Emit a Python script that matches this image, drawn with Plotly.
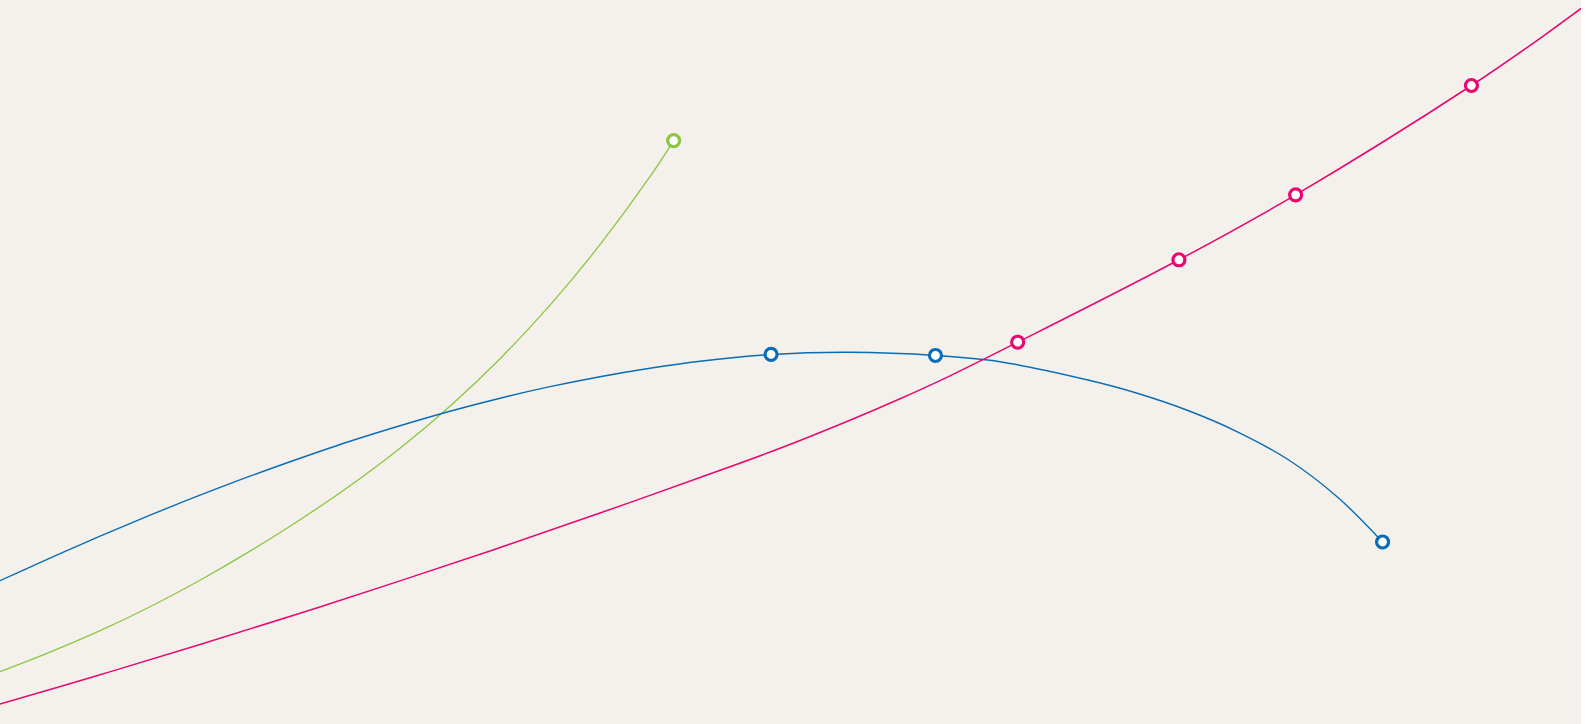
import plotly.graph_objects as go

# Trajectories on a 0-100 scale in both directions; points outside the
# visible window keep the curves running off the edges.
green_x = [-3.16, 0.00, 3.16, 6.33, 9.49, 12.65, 15.81, 18.98, 22.14, 25.30,
           28.46, 31.63, 34.79, 37.95, 41.11, 42.61]
green_y = [4.67, 7.22, 9.92, 12.89, 16.20, 19.86, 23.87, 28.22, 32.91, 38.09,
           43.90, 50.46, 57.85, 66.20, 75.59, 80.59]
green_marked = [15]

blue_x = [-3.16, 0.00, 3.16, 6.33, 9.49, 12.65, 15.81, 18.98, 22.14, 25.30,
          28.46, 31.63, 34.79, 37.95, 41.11, 44.28, 48.77, 53.76, 59.17, 63.25,
          68.82, 71.98, 75.14, 78.30, 81.47, 84.63, 87.45]
blue_y = [16.71, 19.79, 22.90, 25.94, 28.84, 31.60, 34.23, 36.71, 39.06, 41.20,
          43.20, 45.00, 46.59, 47.97, 49.14, 50.11, 51.04, 51.34, 50.90, 50.04,
          47.51, 45.65, 43.30, 40.33, 36.53, 31.28, 25.14]
blue_marked = [16, 18, 26]

pink_x = [-3.16, 0.00, 6.33, 12.65, 18.98, 25.30, 31.63, 37.95, 44.28, 49.34,
          53.76, 56.93, 60.09, 64.37, 74.57, 81.95, 93.07, 97.41, 103.10]
pink_y = [0.79, 2.76, 6.80, 10.98, 15.30, 19.77, 24.38, 29.14, 34.05, 38.08,
          41.95, 44.92, 48.09, 52.73, 64.12, 73.09, 88.19, 94.71, 103.87]
pink_marked = [13, 14, 15, 16]

series = [
    ("green", green_x, green_y, green_marked, "#8cc63f", 1.3),
    ("blue", blue_x, blue_y, blue_marked, "#0a6cb4", 1.4),
    ("pink", pink_x, pink_y, pink_marked, "#e8096e", 1.5),
]

BG = "#f4f1ec"

fig = go.Figure()

for name, xs, ys, marked, color, lw in series:
    fig.add_trace(go.Scatter(
        x=xs, y=ys, mode="lines", name=name,
        line=dict(color=color, width=lw, shape="spline", smoothing=1,
                  simplify=False),
        hoverinfo="skip",
    ))

for name, xs, ys, marked, color, lw in series:
    fig.add_trace(go.Scatter(
        x=[xs[i] for i in marked], y=[ys[i] for i in marked],
        mode="markers", name=name,
        marker=dict(symbol="circle", size=12, color="#ffffff",
                    line=dict(color=color, width=3.2)),
    ))

fig.update_layout(
    width=1581, height=724,
    margin=dict(l=0, r=0, t=0, b=0),
    paper_bgcolor=BG, plot_bgcolor=BG,
    showlegend=False,
    xaxis=dict(range=[0, 100], visible=False, fixedrange=True),
    yaxis=dict(range=[0, 100], visible=False, fixedrange=True),
)

fig.write_html("out.html", config={"displayModeBar": False})
